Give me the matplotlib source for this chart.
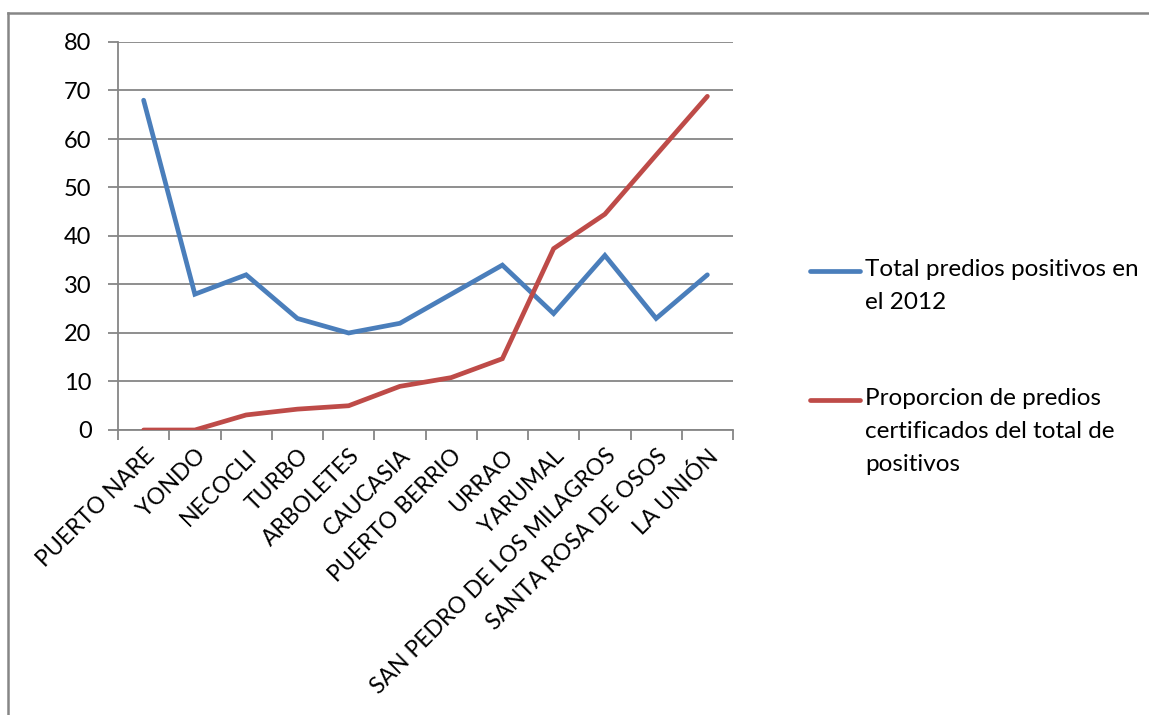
import numpy as np
import matplotlib
matplotlib.use('Agg')
import matplotlib.pyplot as plt
from matplotlib.lines import Line2D

plt.rcParams['font.family'] = ['Lato', 'DejaVu Sans']

municipios = ['PUERTO NARE', 'YONDO', 'NECOCLI', 'TURBO', 'ARBOLETES', 'CAUCASIA',
              'PUERTO BERRIO', 'URRAO', 'YARUMAL', 'SAN PEDRO DE LOS MILAGROS',
              'SANTA ROSA DE OSOS', 'LA UNIÓN']
total_positivos = [68, 28, 32, 23, 20, 22, 28, 34, 24, 36, 23, 32]
proporcion_cert = [0, 0, 3.1, 4.3, 5.0, 9.0, 10.8, 14.7, 37.4, 44.5, 56.7, 68.8]

label_total = 'Total predios positivos en\nel 2012'
label_prop = 'Proporcion de predios\ncertificados del total de\npositivos'

blue = '#4A7EBB'
red = '#BE4B48'
grey = '#868686'

fig = plt.figure(figsize=(11.49, 7.15), dpi=100)
ax = fig.add_axes([118 / 1149, 1 - 430 / 715, (733 - 118) / 1149, (430 - 42) / 715])

x = np.arange(len(municipios))
ax.plot(x, total_positivos, color=blue, lw=3.4, solid_capstyle='round', solid_joinstyle='miter', zorder=3)
ax.plot(x, proporcion_cert, color=red, lw=3.4, solid_capstyle='round', solid_joinstyle='miter', zorder=3)

ax.set_xlim(-0.5, len(municipios) - 0.5)
ax.set_ylim(0, 80)
ax.set_yticks(np.arange(0, 81, 10))
ax.yaxis.grid(True, color=grey, lw=1.3)
ax.set_axisbelow(True)

ax.set_xticks(x)
ax.set_xticklabels(municipios, rotation=45, ha='right', va='top', rotation_mode='anchor')
ax.set_xticks(np.arange(-0.5, len(municipios)), minor=True)
ax.tick_params(axis='x', which='major', length=0, pad=11, labelsize=16.5)
ax.tick_params(axis='x', which='minor', length=7, width=1.3, color=grey, direction='out')
ax.tick_params(axis='y', length=7, width=1.3, color=grey, direction='out', pad=12, labelsize=17)

for s in ['top', 'right']:
    ax.spines[s].set_visible(False)
for s in ['left', 'bottom']:
    ax.spines[s].set_color(grey)
    ax.spines[s].set_linewidth(1.3)

# legend, drawn by hand so the key sits on the first text line
def fx(px):
    return px / 1149

def fy(py):
    return 1 - py / 715

for color, label, ypx in [(blue, label_total, 271), (red, label_prop, 400)]:
    fig.add_artist(Line2D([fx(810), fx(860)], [fy(ypx), fy(ypx)], color=color, lw=3.4,
                          solid_capstyle='round', transform=fig.transFigure))
    fig.text(fx(865), fy(ypx - 12), label, fontsize=17.5, va='top', ha='left', linespacing=1.7)

# chart-area border
fig.add_artist(Line2D([fx(8), fx(1149)], [fy(13), fy(13)], color=grey, lw=1.8, transform=fig.transFigure))
fig.add_artist(Line2D([fx(8), fx(8)], [fy(13), fy(715)], color=grey, lw=1.8, transform=fig.transFigure))

fig.savefig('out.png', dpi=100, facecolor='white')
